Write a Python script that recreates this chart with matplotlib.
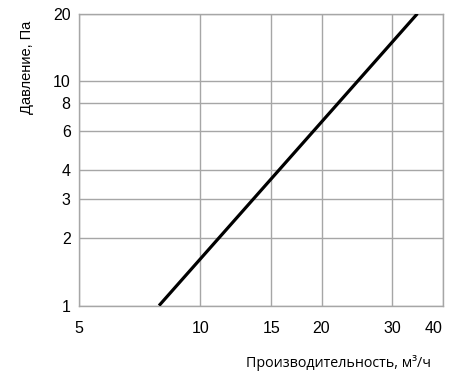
import numpy as np
import matplotlib.pyplot as plt
from matplotlib.ticker import FixedLocator, NullLocator

# data (log-log characteristic)
flow = [7.9, 34.6]          # m3/h
pressure = [1.0, 20.0]      # Pa

x_ticks = [5, 10, 15, 20, 30, 40]
y_ticks = [1, 2, 3, 4, 6, 8, 10, 20]

tick_font = ["Liberation Sans", "DejaVu Sans"]
grid_col = "#a6a6a6"

fig = plt.figure(figsize=(4.5, 3.89), dpi=100, facecolor="white")
ax = fig.add_axes([0.1756, 0.2144, 0.8084, 0.7506])

ax.set_xscale("log")
ax.set_yscale("log")
ax.set_xlim(5, 40)
ax.set_ylim(1, 20)

ax.plot(flow, pressure, color="black", linewidth=2.3, solid_capstyle="butt", zorder=3)

ax.xaxis.set_major_locator(FixedLocator(x_ticks))
ax.yaxis.set_major_locator(FixedLocator(y_ticks))
ax.xaxis.set_minor_locator(NullLocator())
ax.yaxis.set_minor_locator(NullLocator())
ax.set_xticklabels([str(v) for v in x_ticks], family=tick_font, fontsize=11.5)
ax.set_yticklabels([str(v) for v in y_ticks], family=tick_font, fontsize=11.5)
ax.get_xticklabels()[-1].set_horizontalalignment("right")
ax.tick_params(axis="both", length=0, colors="black")
ax.tick_params(axis="x", pad=11)
ax.tick_params(axis="y", pad=6)

ax.grid(True, color=grid_col, linewidth=1.0)
for spine in ax.spines.values():
    spine.set_color(grid_col)
    spine.set_linewidth(1.0)

fig.text(27 / 450, 1 - 67 / 389, "Давление, Па", rotation=90,
         ha="center", va="center", fontsize=10.5, family=["Liberation Sans", "DejaVu Sans"])
fig.text(431 / 450, 1 - 363 / 389, "Производительность, м³/ч",
         ha="right", va="center", fontsize=10.3, family=["Open Sans", "DejaVu Sans"])

fig.savefig("out.png", dpi=100, facecolor="white")
